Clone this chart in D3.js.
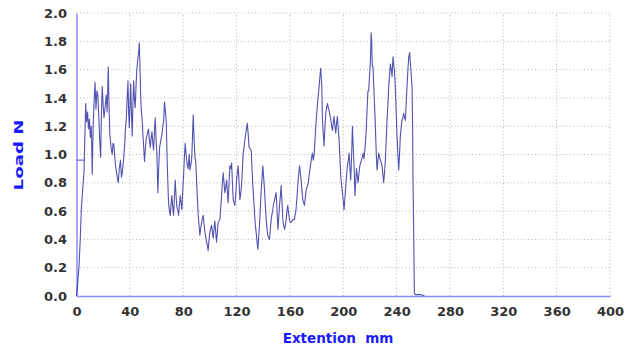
<!DOCTYPE html>
<html><head><meta charset="utf-8">
<script src="https://cdn.jsdelivr.net/npm/d3@7"></script>
<style>
html,body{margin:0;padding:0;background:#fff;}
svg{display:block;}
</style></head>
<body>
<script>
// Data
const extension = [0,1.0,1.9,2.8,3.6,4.6,5.6,6.2,6.9,7.6,8.3,9.0,9.7,10.4,11.1,11.8,12.5,13.2,13.9,14.6,15.3,16.0,16.8,17.4,18.1,18.7,19.3,20.0,20.6,21.4,22.3,23.0,23.8,24.4,25.0,25.9,26.8,27.4,28.0,28.7,29.3,30.2,31.3,32.1,33.0,33.7,34.3,35.2,36.0,36.7,37.3,38.0,38.6,39.1,39.6,40.1,40.6,41.2,41.8,42.3,42.8,43.4,44.0,44.7,45.3,46.0,46.6,47.1,47.6,48.0,48.5,49.2,49.8,50.4,51.0,51.7,52.3,53.2,54.0,54.7,55.3,56.0,56.6,57.2,57.8,58.4,59.0,59.7,60.3,61.0,61.6,62.3,63.2,64.0,64.7,65.3,66.0,66.7,67.3,68.0,68.5,69.0,69.7,70.3,70.9,71.5,72.2,72.8,73.4,74.0,74.7,75.3,76.0,76.6,77.2,77.8,78.4,79.0,79.7,80.3,80.9,81.5,82.2,82.8,83.6,84.5,85.0,86.3,86.9,87.5,88.2,88.8,89.4,90.0,90.6,91.2,91.9,92.5,93.2,93.8,94.4,95.0,95.7,96.3,96.9,97.5,98.1,98.7,99.4,100.0,100.7,101.3,101.9,102.5,103.1,103.7,104.4,105.0,105.6,106.2,106.9,107.5,108.1,108.8,109.4,110.0,110.6,111.2,111.9,112.5,113.1,113.7,114.4,115.0,115.6,116.3,116.9,117.5,118.1,118.7,119.4,120.0,120.6,121.2,121.9,122.5,123.1,123.7,124.4,125.0,125.6,126.2,127.1,128.0,128.7,129.4,130.2,131.0,131.6,132.2,132.9,133.5,134.1,134.7,135.4,136.0,136.6,137.2,137.8,138.4,139.0,139.7,140.3,141.0,141.6,142.2,142.8,143.4,144.1,144.7,145.3,146.0,146.6,147.2,147.8,148.5,149.1,149.7,150.4,151.0,151.6,152.2,152.8,153.4,154.1,154.7,155.3,156.0,156.6,157.2,157.8,158.4,159.1,159.7,160.3,160.9,161.6,162.2,163.4,164.6,165.3,165.9,166.5,167.2,167.8,168.4,169.0,169.7,170.3,170.9,171.6,172.2,173.2,173.8,174.4,175.1,175.7,176.3,176.9,177.5,178.1,178.8,179.4,180.0,180.7,181.3,181.9,182.5,183.1,183.5,183.9,184.4,185.0,185.6,186.2,186.9,187.5,188.2,188.8,189.4,190.0,190.6,191.3,191.9,192.5,193.1,193.8,194.4,195.0,195.6,196.3,196.9,197.5,198.1,198.8,199.4,200.0,200.6,201.3,201.9,202.5,203.1,203.8,204.4,205.0,205.6,206.3,206.9,207.5,208.1,208.8,209.3,209.9,210.5,211.1,211.7,212.4,213.0,213.6,214.2,214.9,215.5,216.0,216.6,217.2,217.8,218.5,219.1,219.7,220.4,220.9,221.3,221.8,222.3,222.9,223.4,223.9,224.3,224.8,225.3,226.0,226.6,227.3,227.9,228.5,229.1,229.7,230.3,231.0,231.6,232.2,232.8,233.5,234.1,234.7,235.3,236.0,236.6,237.3,237.8,238.4,238.9,239.3,239.8,240.3,241.0,241.6,242.2,242.8,243.4,244.0,244.7,245.3,246.0,246.6,247.2,247.8,248.5,249.1,249.8,250.3,250.8,251.2,251.6,252.0,252.3,252.6,252.8,253.1,253.3,254,258,261];
const load = [0,0.1,0.21,0.4,0.61,0.75,0.87,1.1,1.36,1.23,1.3,1.18,1.25,1.12,1.2,0.86,1.2,1.38,1.51,1.32,1.45,1.42,1.25,1.1,0.98,1.3,1.48,1.35,1.26,1.33,1.42,1.3,1.62,1.35,1.14,1.05,1.0,1.08,1.07,0.98,0.92,0.86,0.8,0.9,0.96,0.84,0.87,0.95,1.05,1.18,1.25,1.4,1.52,1.3,1.19,1.35,1.5,1.3,1.13,1.35,1.52,1.4,1.33,1.5,1.61,1.68,1.72,1.79,1.62,1.45,1.32,1.25,1.14,1.05,0.95,1.05,1.11,1.15,1.18,1.1,1.05,1.12,1.16,1.08,1.03,1.15,1.26,1.1,1.0,0.73,0.9,1.05,1.1,1.14,1.2,1.23,1.37,1.3,1.23,0.95,0.8,0.66,0.6,0.57,0.65,0.71,0.62,0.57,0.7,0.82,0.7,0.63,0.6,0.57,0.65,0.71,0.66,0.61,0.75,0.85,0.98,1.08,1.0,0.94,0.9,1.0,0.89,0.96,1.1,1.28,1.1,0.98,0.95,0.82,0.7,0.58,0.5,0.43,0.48,0.52,0.55,0.57,0.5,0.45,0.42,0.38,0.36,0.32,0.4,0.45,0.48,0.5,0.45,0.41,0.47,0.53,0.45,0.38,0.45,0.52,0.53,0.54,0.62,0.71,0.8,0.87,0.8,0.73,0.77,0.82,0.74,0.66,0.8,0.92,0.9,0.94,0.8,0.68,0.66,0.64,0.72,0.82,0.87,0.92,0.8,0.68,0.72,0.78,0.9,1.01,1.05,1.1,1.16,1.22,1.15,1.05,1.04,1.03,0.9,0.78,0.68,0.58,0.5,0.45,0.38,0.33,0.42,0.5,0.62,0.73,0.82,0.92,0.84,0.75,0.64,0.54,0.48,0.43,0.41,0.4,0.47,0.54,0.58,0.61,0.65,0.68,0.71,0.73,0.6,0.47,0.55,0.64,0.7,0.78,0.66,0.54,0.5,0.47,0.5,0.54,0.6,0.64,0.58,0.54,0.52,0.52,0.53,0.54,0.54,0.61,0.7,0.78,0.85,0.92,0.87,0.82,0.75,0.68,0.66,0.64,0.7,0.75,0.78,0.8,0.85,0.9,0.94,0.98,1.01,0.96,0.99,1.1,1.2,1.28,1.36,1.42,1.48,1.55,1.61,1.55,1.48,1.25,1.15,1.06,1.18,1.29,1.33,1.36,1.33,1.31,1.28,1.25,1.2,1.17,1.22,1.27,1.2,1.15,1.22,1.27,1.18,1.1,0.98,0.85,0.78,0.73,0.67,0.61,0.7,0.78,0.85,0.92,0.96,1.01,0.9,0.82,1.0,1.2,1.05,0.92,0.71,0.8,0.9,0.85,0.8,0.86,0.92,0.94,0.96,0.98,1.01,0.97,1.01,1.08,1.17,1.3,1.45,1.45,1.56,1.66,1.86,1.8,1.62,1.62,1.48,1.36,1.25,1.13,1.0,0.89,0.95,1.01,0.98,0.96,0.94,0.92,0.86,0.8,0.88,0.96,1.1,1.24,1.36,1.48,1.56,1.64,1.6,1.55,1.69,1.64,1.59,1.5,1.41,1.27,1.13,1.0,0.89,1.0,1.13,1.19,1.24,1.26,1.29,1.26,1.24,1.36,1.48,1.6,1.69,1.72,1.65,1.59,1.52,1.48,1.2,0.82,0.6,0.47,0.2,0.02,0.01,0.01,0];
const markerExt = [0, 6.5];
const markerLoad = [0.96, 0.96];
const xTicks = [0,40,80,120,160,200,240,280,320,360,400];
const yTicks = [0.0,0.2,0.4,0.6,0.8,1.0,1.2,1.4,1.6,1.8,2.0];
const xTitle = "Extention  mm";
const yTitle = "Load N";

const W = 638, H = 352;
const m = {left: 76.5, right: 28, top: 13, bottom: 56};
const FONT = "DejaVu Sans, Verdana, sans-serif";
const svg = d3.select("body").append("svg").attr("width", W).attr("height", H);
const x = d3.scaleLinear().domain([0, 400]).range([m.left, W - m.right]);
const y = d3.scaleLinear().domain([0, 2]).range([H - m.bottom, m.top]);

// grid
const g = svg.append("g");
g.selectAll(".hg").data(yTicks.filter(d => d > 0)).enter().append("line")
  .attr("x1", x(0)).attr("x2", x(400)).attr("y1", d => y(d)).attr("y2", d => y(d))
  .attr("stroke", "#b8b8b8").attr("stroke-width", 1).attr("stroke-dasharray", "1,2.5");
g.selectAll(".vg").data(xTicks.filter(d => d > 0)).enter().append("line")
  .attr("y1", y(0)).attr("y2", y(2)).attr("x1", d => x(d)).attr("x2", d => x(d))
  .attr("stroke", "#b8b8b8").attr("stroke-width", 1).attr("stroke-dasharray", "1,2.5");

// axes
const xAxis = d3.axisBottom(x).tickValues(xTicks).tickSize(0).tickPadding(11).tickFormat(d3.format("d"));
const yAxis = d3.axisLeft(y).tickValues(yTicks).tickSize(0).tickPadding(9.5).tickFormat(d3.format(".1f"));
const ax = svg.append("g").attr("transform", `translate(0,${y(0)})`).call(xAxis);
const ay = svg.append("g").attr("transform", `translate(${x(0)},0)`).call(yAxis);
[ax, ay].forEach(a => {
  a.select(".domain").attr("stroke", "#8a8aff").attr("stroke-width", 1.5);
  a.selectAll("text").attr("font-family", FONT).attr("font-weight", "bold")
    .attr("font-size", 13).attr("fill", "#333");
});

// data line
const pts = extension.map((e, i) => [e, load[i]]);
const line = d3.line().x(d => x(d[0])).y(d => y(d[1]));
svg.append("path").datum(pts).attr("d", line)
  .attr("fill", "none").attr("stroke", "#3434a4").attr("stroke-width", 1.1)
  .attr("stroke-opacity", 0.85).attr("stroke-linejoin", "round");
svg.append("path").datum(markerExt.map((e, i) => [e, markerLoad[i]])).attr("d", line)
  .attr("fill", "none").attr("stroke", "#6a6ad0").attr("stroke-width", 1.2);

// titles
svg.append("text").attr("x", 338).attr("y", 343).attr("text-anchor", "middle")
  .attr("font-family", FONT).attr("font-weight", "bold")
  .attr("font-size", 13.5).attr("fill", "#1a1aff")
  .style("white-space", "pre").text(xTitle);
svg.append("text").attr("transform", "translate(23,155) rotate(-90) scale(1.4,1)").attr("text-anchor", "middle")
  .attr("font-family", FONT).attr("font-weight", "bold")
  .attr("font-size", 13).attr("fill", "#1a1aff").text(yTitle);
</script>
</body></html>
